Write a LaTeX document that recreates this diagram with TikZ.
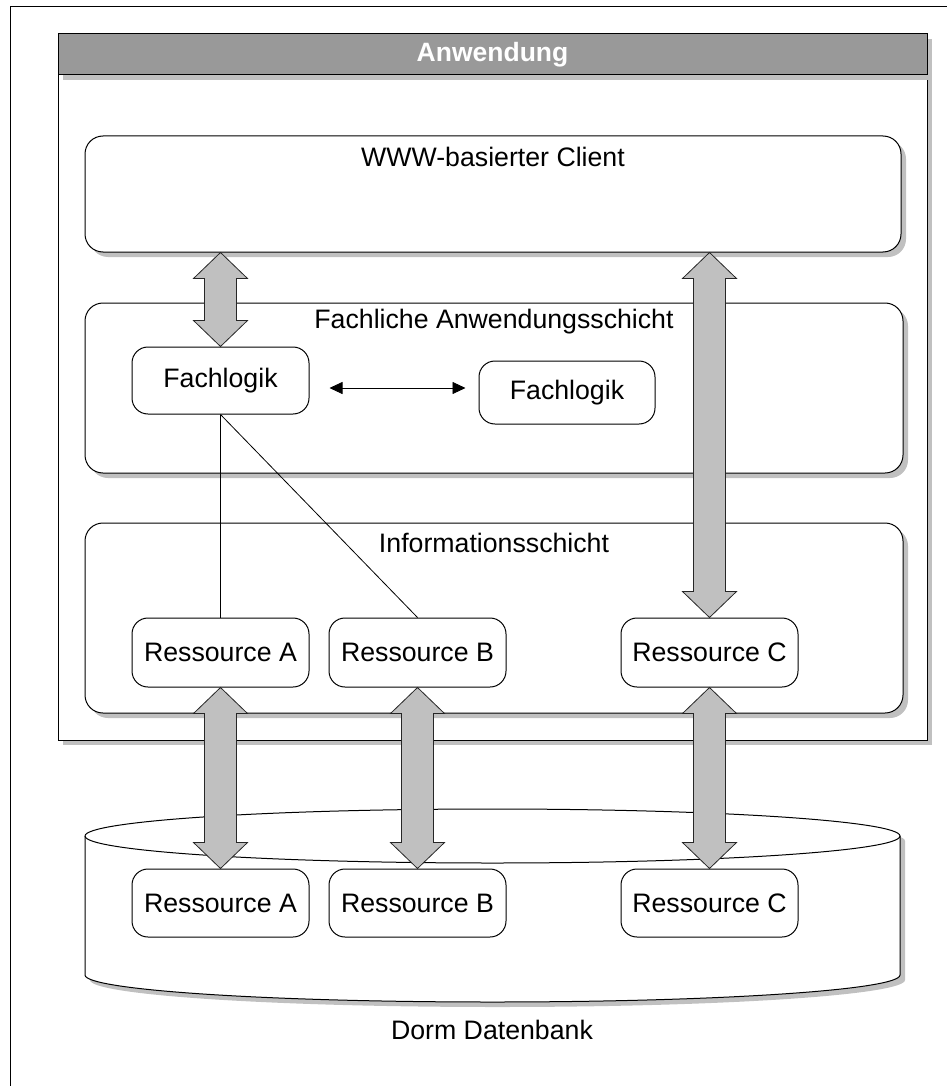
\documentclass[tikz,border=0pt]{standalone}
\usepackage{fontspec}
\setmainfont{Liberation Sans}
\usetikzlibrary{shadows,arrows.meta,calc}
\definecolor{shade}{HTML}{C0C0C0}
\definecolor{headgray}{HTML}{999999}

% vertical double-headed block arrow between two points
\newcommand\fatarrow[2]{%
  \draw[bigarrow] let \p1=(#1), \p2=(#2) in
    (\x1,\y1) -- (\x1+27pt,\y1-26pt) -- (\x1+16pt,\y1-26pt) --
    (\x1+16pt,\y2+26pt) -- (\x1+27pt,\y2+26pt) -- (\x1,\y2) --
    (\x1-27pt,\y2+26pt) -- (\x1-16pt,\y2+26pt) --
    (\x1-16pt,\y1-26pt) -- (\x1-27pt,\y1-26pt) -- cycle;}

\begin{document}
\begin{tikzpicture}[x=1pt,y=-1pt,
  every node/.style={font=\fontsize{26.7}{32}\selectfont, inner sep=0pt},
  shadowed/.style={drop shadow={shadow xshift=5pt,shadow yshift=-5pt,fill=shade,opacity=1}},
  layer/.style={draw, line width=1pt, fill=white, rounded corners=18pt, shadowed},
  unit/.style={draw, line width=1pt, fill=white, rounded corners=16pt,
    minimum width=177pt, minimum height=68pt},
  bigarrow/.style={draw=black!85, line width=0.8pt, fill=shade, line join=miter},
  link/.style={line width=0.8pt},
]
\useasboundingbox (0,0) rectangle (947,1086);

% page frame
\draw[line width=1pt] (10,1086) -- (10,7) -- (947,7);

% application container with title bar
\node[draw, line width=1pt, fill=white, shadowed,
  minimum width=869pt, minimum height=706pt] (app) at (492.5,387) {};
\node[draw, line width=1pt, fill=headgray, shadowed, text=white,
  font=\fontsize{26.5}{32}\selectfont\bfseries,
  minimum width=869pt, minimum height=41pt] (head) at (492.5,54.5) {Anwendung};

% layers
\node[layer, minimum width=816pt, minimum height=116pt] (client) at (493,194) {};
\node[layer, minimum width=818pt, minimum height=170pt] (fachl) at (494,388) {};
\node[layer, minimum width=818pt, minimum height=190pt] (info) at (494,618) {};

\node (clientT) at ([yshift=-21pt]client.north) {WWW-basierter Client};
\node (fachlT) at ([yshift=-19pt]fachl.north) {Fachliche Anwendungsschicht};
\node (infoT) at ([yshift=-20pt]info.north) {Informationsschicht};

% business logic
\node[unit, minimum height=67pt] (fl1) at (220.5,380.5) {Fachlogik};
\node[unit, minimum width=176pt, minimum height=63pt] (fl2) at (567,392.5) {Fachlogik};

% resources in the information layer
\node[unit, minimum height=69pt] (resA) at (220.5,652.5) {Ressource A};
\node[unit, minimum height=69pt] (resB) at (417.5,652.5) {Ressource B};
\node[unit, minimum height=69pt] (resC) at (709.5,652.5) {Ressource C};

% links from the logic to the resources
\draw[link] (fl1.south) -- (resA.north);
\draw[link] (fl1.south) -- (resB.north);

% exchange between the two logic units
\coordinate (xa) at ([xshift=20pt,yshift=-7.5pt]fl1.east);
\coordinate (xb) at (xa -| fl2.west);
\draw[link, {Triangle[length=13pt,width=12pt]}-{Triangle[length=13pt,width=12pt]},
  shorten >=13pt] (xa) -- (xb);

% database cylinder
\draw[line width=1pt, fill=white, shadowed]
  (85,836) -- (85,975)
  arc[start angle=180, end angle=0, x radius=407.5, y radius=27]
  -- (900,836)
  arc[start angle=0, end angle=-180, x radius=407.5, y radius=27] -- cycle;
\draw[line width=1pt] (85,836)
  arc[start angle=180, end angle=0, x radius=407.5, y radius=27];
\node (dbT) at (492,1030) {Dorm Datenbank};

\node[unit] (dbA) at (220.5,903) {Ressource A};
\node[unit] (dbB) at (417.5,903) {Ressource B};
\node[unit] (dbC) at (709.5,903) {Ressource C};

% block arrows
\fatarrow{client.south -| fl1.north}{fl1.north}
\fatarrow{client.south -| resC.north}{resC.north}
\fatarrow{resA.south}{dbA.north}
\fatarrow{resB.south}{dbB.north}
\fatarrow{resC.south}{dbC.north}
\end{tikzpicture}
\end{document}
